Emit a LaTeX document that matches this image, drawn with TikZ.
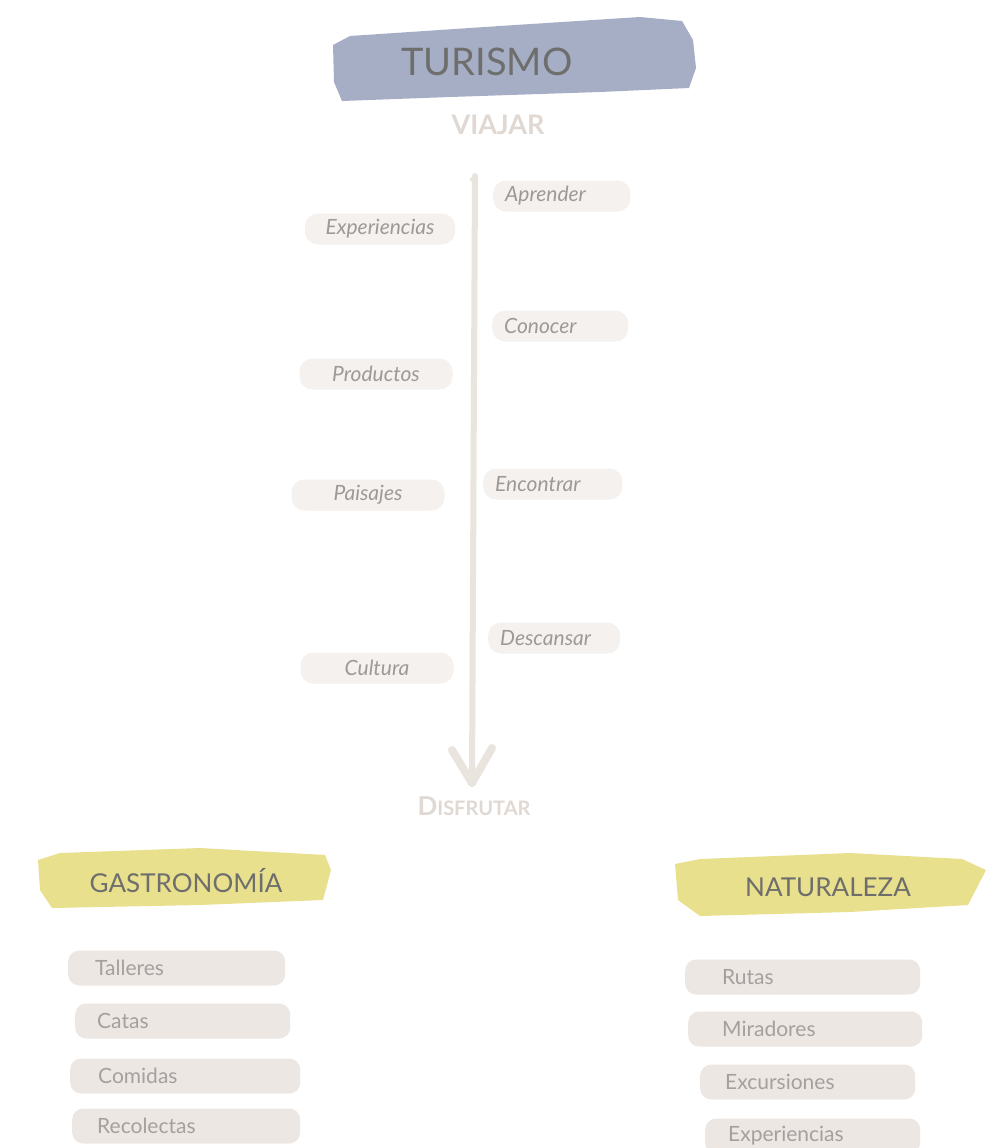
\documentclass[tikz,border=0pt]{standalone}
\usepackage{fontspec}
\setmainfont{Lato}
\usetikzlibrary{arrows.meta}
\definecolor{bluebrush}{HTML}{A6AEC6}
\definecolor{yellowbrush}{HTML}{E9E08E}
\definecolor{handpill}{HTML}{F4F1EE}
\definecolor{itempill}{HTML}{EDE7E4}
\definecolor{titletxt}{HTML}{6E6E6C}
\definecolor{handtxt}{HTML}{9C9996}
\definecolor{itemtxt}{HTML}{A3A09E}
\definecolor{paletxt}{HTML}{E0D9D3}
\definecolor{linec}{HTML}{EAE4DE}
\begin{document}
\begin{tikzpicture}[x=1pt,y=-1pt,
  title/.style={text=titletxt, inner sep=0pt},
  hand/.style={fill=handpill, rounded corners=13pt, minimum height=31pt, inner sep=0pt,
    font=\itshape\fontsize{21}{21}\selectfont, text=handtxt},
  handr/.style={hand, anchor=west, align=left, inner xsep=12pt},
  item/.style={fill=itempill, rounded corners=11pt, minimum height=35pt, inner ysep=0pt,
    anchor=west, align=left, font=\fontsize{21}{21}\selectfont, text=itemtxt},
  pale/.style={text=paletxt, inner sep=0pt, font=\bfseries\fontsize{27}{27}\selectfont},
  flow/.style={draw=linec, line width=6pt, line cap=round}
]
\useasboundingbox (0,0) rectangle (1000,1148);
\fill[white] (0,0) rectangle (1000,1148);

% brush strokes
\fill[bluebrush] (333,45) -- (350,36) -- (500,26) -- (640,17) -- (682,21) -- (693,40) -- (696,68) -- (689,88) -- (600,92) -- (450,97) -- (342,101) -- (334,82) -- cycle;
\fill[yellowbrush] (38,860) -- (60,853) -- (200,848) -- (325,855) -- (331,870) -- (323,900) -- (200,905) -- (52,908) -- (40,890) -- cycle;
\fill[yellowbrush] (675,864) -- (700,859) -- (850,853) -- (962,859) -- (986,870) -- (968,905) -- (850,912) -- (700,916) -- (678,900) -- cycle;

% titles
\node[title, font=\fontsize{38}{38}\selectfont] (turismo) at (487,62) {TURISMO};
\node[title, font=\fontsize{26}{26}\selectfont] (gastro) at (186,881) {GASTRONOMÍA};
\node[title, font=\fontsize{26}{26}\selectfont] (natur) at (828,887) {NATURALEZA};

% pale words
\node[pale] (viajar) at (498,125) {VIAJAR};
\node[pale, font=\bfseries\fontsize{20}{20}\selectfont] (disfrutar) at (474,806) {{\fontsize{26}{26}\selectfont D}ISFRUTAR};

% flow arrow
\coordinate (ftop) at (475,176);
\coordinate (fbot) at (472,783);
\draw[flow] (ftop) -- (fbot);
\draw[flow, line width=8pt, line join=round] (452,750) -- (fbot) -- (492,748);
\draw[flow, line width=3pt] (ftop) -- ++(-4,4);

% left handwritten pills
\node[hand, minimum width=150pt] (expe) at (380,229) {Experiencias};
\node[hand, minimum width=153pt] (prod) at (376,374) {Productos};
\node[hand, minimum width=153pt] (pais) at (368,495) {Paisajes};
\node[hand, minimum width=153pt] (cult) at (377,668) {Cultura};

% right handwritten pills
\node[handr, minimum width=137pt, text width=113pt] (apre) at (493,196) {Aprender};
\node[handr, minimum width=136pt, text width=112pt] (cono) at (492,326) {Conocer};
\node[handr, minimum width=139pt, text width=115pt] (enco) at (483,484) {Encontrar};
\node[handr, minimum width=132pt, text width=108pt] (desc) at (488,638) {Descansar};

% gastronomy items
\node[item, minimum width=217pt, inner xsep=27pt, text width=163pt] (talleres) at (68,968) {Talleres};
\node[item, minimum width=215pt, inner xsep=22pt, text width=171pt] (catas) at (75,1021) {Catas};
\node[item, minimum width=230pt, inner xsep=28pt, text width=174pt] (comidas) at (70,1076) {Comidas};
\node[item, minimum width=228pt, inner xsep=25pt, text width=178pt] (recol) at (72,1126) {Recolectas};

% naturaleza items
\node[item, minimum width=235pt, inner xsep=37pt, text width=161pt] (rutas) at (685,977) {Rutas};
\node[item, minimum width=234pt, inner xsep=34pt, text width=166pt] (mirad) at (688,1029) {Miradores};
\node[item, minimum width=215pt, inner xsep=25pt, text width=165pt] (excur) at (700,1082) {Excursiones};
\node[item, minimum width=215pt, inner xsep=23pt, text width=169pt] (exper) at (705,1136) {Experiencias};
\end{tikzpicture}
\end{document}
